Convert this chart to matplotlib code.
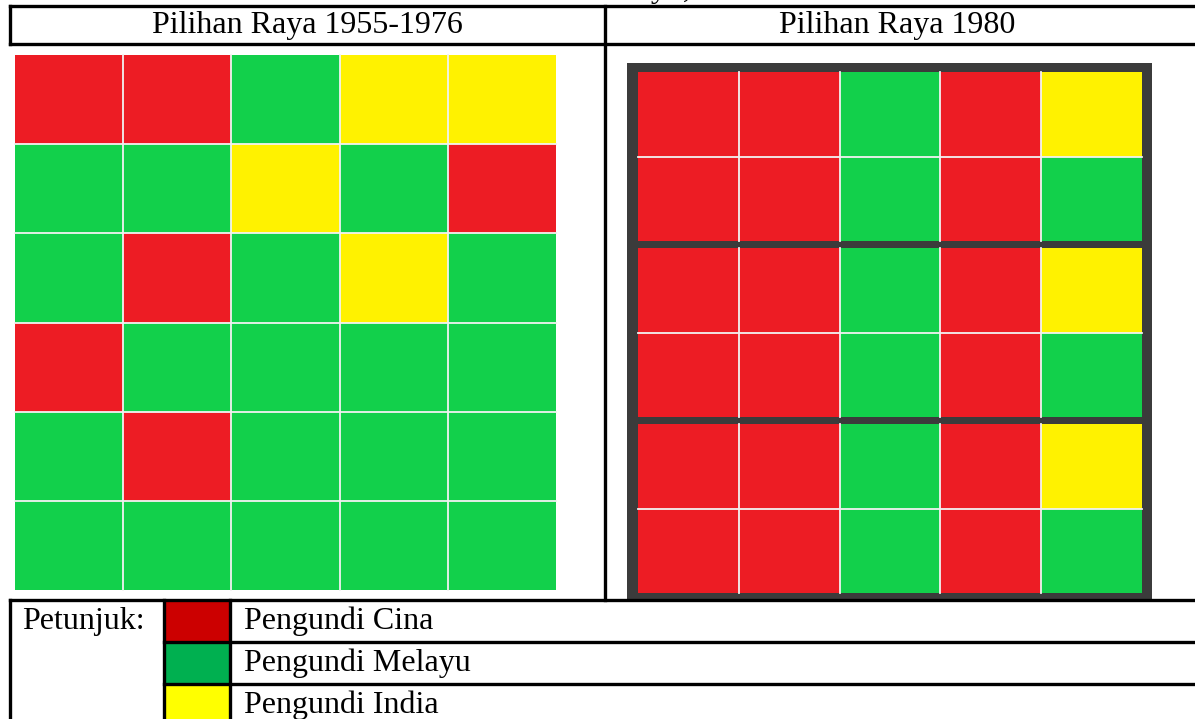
import matplotlib
matplotlib.use("Agg")
import matplotlib.pyplot as plt
from matplotlib.patches import Rectangle

# ---- data ----
headers = ["Pilihan Raya 1955-1976", "Pilihan Raya 1980"]
legend_label = "Petunjuk:"
legend_items = ["Pengundi Cina", "Pengundi Melayu", "Pengundi India"]
legend_colors = ["#cc0000", "#00b050", "#ffff00"]

# C = Cina, M = Melayu, I = India
grid_1955 = [
    ["C", "C", "M", "I", "I"],
    ["M", "M", "I", "M", "C"],
    ["M", "C", "M", "I", "M"],
    ["C", "M", "M", "M", "M"],
    ["M", "C", "M", "M", "M"],
    ["M", "M", "M", "M", "M"],
]
grid_1980 = [
    ["C", "C", "M", "C", "I"],
    ["C", "C", "M", "C", "M"],
    ["C", "C", "M", "C", "I"],
    ["C", "C", "M", "C", "M"],
    ["C", "C", "M", "C", "I"],
    ["C", "C", "M", "C", "M"],
]
cell_colors = {"C": "#ed1c24", "M": "#12d04b", "I": "#fff200"}

W, H = 1195, 719
fig = plt.figure(figsize=(W / 100, H / 100), dpi=100)
ax = fig.add_axes([0, 0, 1, 1])
ax.set_xlim(0, W)
ax.set_ylim(H, 0)
ax.axis("off")

font = ["Liberation Serif", "DejaVu Serif"]
fs = 23
line_col = "#f2f2f2"

# caption cut off by the top edge (only its lowest part shows)
ax.text(763, -3, "Melayu, 1980", ha="right", va="baseline", fontsize=fs,
        family=font, clip_on=False)

# ---- table lines ----
lw = 2.4
ax.plot([10, W], [6, 6], color="black", lw=lw)
ax.plot([10, W], [44, 44], color="black", lw=lw)
ax.plot([10, 10], [6, 44], color="black", lw=lw)
ax.plot([605, 605], [6, 600], color="black", lw=lw)
ax.plot([10, W], [600, 600], color="black", lw=lw)

ax.text(307, 26, headers[0], ha="center", va="center", fontsize=fs, family=font)
ax.text(897, 26, headers[1], ha="center", va="center", fontsize=fs, family=font)

# ---- left grid (1955-1976) ----
x0, x1, y0, y1 = 15, 556, 55, 590
nr, nc = len(grid_1955), len(grid_1955[0])
cw, rh = (x1 - x0) / nc, (y1 - y0) / nr
for r, row in enumerate(grid_1955):
    for c, v in enumerate(row):
        ax.add_patch(Rectangle((x0 + c * cw, y0 + r * rh), cw, rh,
                               facecolor=cell_colors[v], edgecolor="none"))
for c in range(1, nc):
    ax.plot([x0 + c * cw] * 2, [y0, y1], color=line_col, lw=1.3)
for r in range(1, nr):
    ax.plot([x0, x1], [y0 + r * rh] * 2, color=line_col, lw=1.3)

# ---- right grid (1980) ----
ax.add_patch(Rectangle((627, 63), 1152 - 627, 602 - 63, facecolor="#3b3b3b", edgecolor="none"))
ix0, ix1, iy0, iy1 = 638, 1142, 72, 593
band = 7
nr, nc = len(grid_1980), len(grid_1980[0])
cw = (ix1 - ix0) / nc
gh = (iy1 - iy0 - 2 * band) / 3
rh = gh / 2
for r, row in enumerate(grid_1980):
    g = r // 2
    top = iy0 + g * (gh + band) + (r % 2) * rh
    for c, v in enumerate(row):
        ax.add_patch(Rectangle((ix0 + c * cw, top), cw, rh,
                               facecolor=cell_colors[v], edgecolor="none"))
for g in range(3):
    gt = iy0 + g * (gh + band)
    ax.plot([ix0, ix1], [gt + rh] * 2, color=line_col, lw=1.3)
    for c in range(1, nc):
        ax.plot([ix0 + c * cw] * 2, [gt, gt + gh], color=line_col, lw=1.3)

# ---- legend ----
ly = [600, 642, 684, H + 40]
sx0, sx1 = 164, 230
ax.plot([10, 10], [600, H], color="black", lw=lw)
ax.text(22, (ly[0] + ly[1]) / 2, legend_label, ha="left", va="center", fontsize=fs, family=font)
for i, (lab, col) in enumerate(zip(legend_items, legend_colors)):
    ax.add_patch(Rectangle((sx0, ly[i]), sx1 - sx0, ly[i + 1] - ly[i], facecolor=col, edgecolor="none"))
    if i > 0:
        ax.plot([sx0, W], [ly[i], ly[i]], color="black", lw=lw)
    ax.text(244, (ly[i] + ly[i + 1]) / 2 if i < 2 else ly[i] + 21, lab,
            ha="left", va="center", fontsize=fs, family=font)
ax.plot([sx0, sx0], [600, H], color="black", lw=lw)
ax.plot([sx1, sx1], [600, H], color="black", lw=lw)

fig.savefig("out.png", dpi=100)
